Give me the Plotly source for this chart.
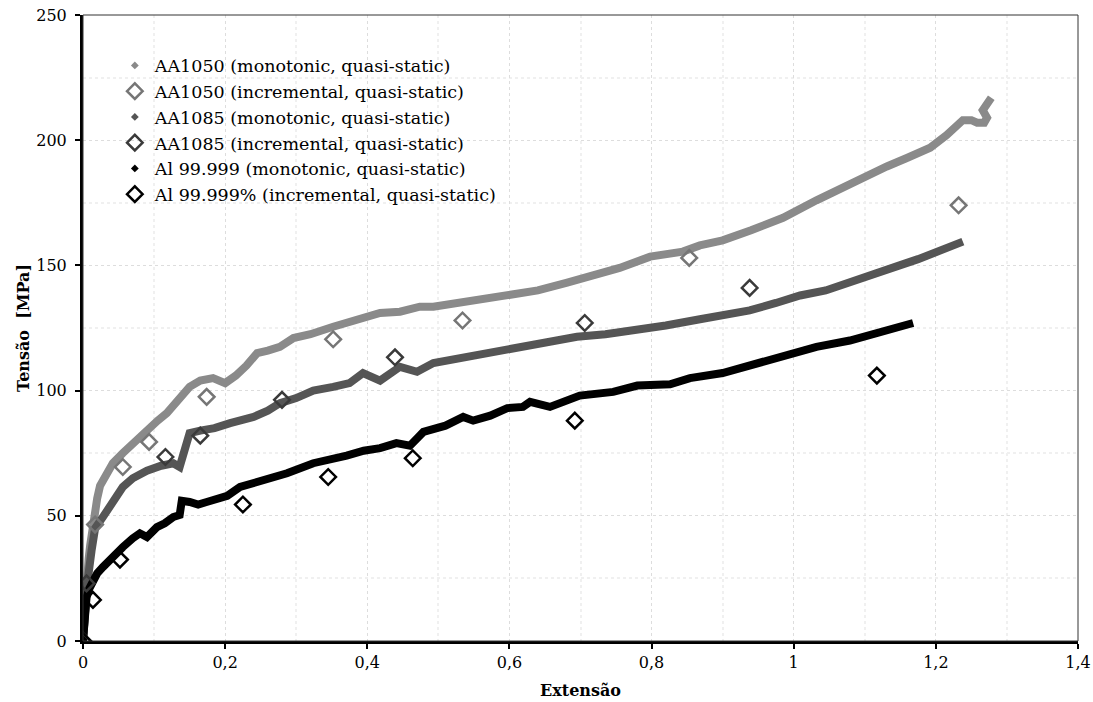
import plotly.graph_objects as go

# ---------------- data ----------------
aa1050_mono_x = [0, 0.002, 0.005, 0.008, 0.01, 0.014, 0.02, 0.024, 0.033, 0.042, 0.056, 0.07, 0.09, 0.105,
                 0.118, 0.135, 0.15, 0.165, 0.183, 0.2, 0.215, 0.23, 0.245, 0.26, 0.277, 0.296, 0.32, 0.352,
                 0.385, 0.418, 0.446, 0.474, 0.493, 0.53, 0.565, 0.601, 0.64, 0.68, 0.713, 0.755, 0.798,
                 0.844, 0.868, 0.9, 0.94, 0.985, 1.032, 1.06, 1.089, 1.131, 1.16, 1.192, 1.215, 1.238,
                 1.25, 1.258, 1.268, 1.272, 1.266, 1.272, 1.278]
aa1050_mono_y = [0, 12, 24, 33, 38, 48, 57, 62, 66, 71, 75, 79, 84, 88,
                 91, 96, 101.5, 104, 105, 103, 106, 110, 115, 116, 117.5, 121, 122.5, 125.5,
                 128, 131, 131.5, 133.5, 133.5, 135, 136.5, 138, 140, 143, 145.5, 149, 153.5,
                 155.5, 158, 160, 164, 169, 176, 180, 184, 189.5, 193, 197, 202, 208,
                 208, 207, 207, 209, 212, 214, 217]

aa1085_mono_x = [0, 0.002, 0.006, 0.012, 0.017, 0.028, 0.042, 0.056, 0.07, 0.09, 0.11, 0.127, 0.136,
                 0.143, 0.15, 0.165, 0.185, 0.207, 0.225, 0.24, 0.26, 0.277, 0.3, 0.324, 0.352, 0.375,
                 0.394, 0.418, 0.446, 0.47, 0.493, 0.53, 0.573, 0.61, 0.643, 0.695, 0.735, 0.774, 0.82,
                 0.868, 0.9, 0.938, 0.975, 1.009, 1.045, 1.079, 1.115, 1.149, 1.175, 1.196, 1.218, 1.238]
aa1085_mono_y = [0, 10, 23, 36, 45, 49.5, 56, 61.5, 65, 68, 70, 71, 69.5,
                 77, 83, 84, 85, 87, 88, 89.5, 92, 95, 97, 100, 101.5, 103,
                 107, 104, 109.5, 107.5, 111, 113, 115.5, 117, 119, 121.5, 122.5, 124, 126,
                 128.5, 130, 132, 135, 138, 140, 143, 146.5, 150, 152.5, 155, 157, 159.5]

al_mono_x = [0, 0.002, 0.005, 0.009, 0.014, 0.02, 0.028, 0.042, 0.056, 0.07, 0.08, 0.09, 0.104, 0.115,
             0.127, 0.136, 0.139, 0.15, 0.162, 0.174, 0.19, 0.203, 0.221, 0.24, 0.259, 0.287, 0.324,
             0.35, 0.371, 0.395, 0.418, 0.441, 0.46, 0.479, 0.51, 0.535, 0.549, 0.573, 0.597, 0.619,
             0.629, 0.657, 0.699, 0.746, 0.78, 0.826, 0.854, 0.9, 0.953, 0.99, 1.032, 1.079, 1.126, 1.168]
al_mono_y = [0, 6, 17.5, 21, 24, 27, 29.5, 34, 37.5, 41, 43, 41.5, 45.5, 47,
             49.5, 50.3, 56, 55.5, 54.5, 55.5, 56.5, 58, 61.5, 63, 64.5, 67, 71,
             72.5, 74, 76, 77, 79, 78, 83.5, 86, 89.5, 88, 90, 93, 93.5,
             95.5, 93.5, 98, 99.5, 102, 102.5, 105, 107, 111, 114, 117.5, 120, 124, 127]

aa1050_inc_x = [0, 0.017, 0.056, 0.093, 0.174, 0.352, 0.534, 0.853, 1.232]
aa1050_inc_y = [0, 46.5, 69.5, 79.5, 97.5, 120.5, 128, 153, 174]

aa1085_inc_x = [0, 0.005, 0.116, 0.165, 0.28, 0.439, 0.706, 0.938]
aa1085_inc_y = [0, 23, 73.5, 82, 96.3, 113.3, 127, 141]

al_inc_x = [0, 0.014, 0.052, 0.225, 0.345, 0.464, 0.692, 1.117]
al_inc_y = [0, 16.4, 32.5, 54.5, 65.5, 73, 88, 106]

names = ["AA1050 (monotonic, quasi-static)", "AA1050 (incremental, quasi-static)",
         "AA1085 (monotonic, quasi-static)", "AA1085 (incremental, quasi-static)",
         "Al 99.999 (monotonic, quasi-static)", "Al 99.999% (incremental, quasi-static)"]

c1050_mono, c1050_inc = "#8a8a8a", "#767676"
c1085_mono, c1085_inc = "#555555", "#3a3a3a"
cal_mono, cal_inc = "#000000", "#000000"

FONT = "DejaVu Serif"

fig = go.Figure()

# thick monotonic bands (drawn first)
for xs, ys, col in [(aa1050_mono_x, aa1050_mono_y, c1050_mono),
                    (aa1085_mono_x, aa1085_mono_y, c1085_mono),
                    (al_mono_x, al_mono_y, cal_mono)]:
    fig.add_trace(go.Scatter(x=xs, y=ys, mode="lines", showlegend=False, hoverinfo="skip",
                             line=dict(color=col, width=8)))

mono_series = [(aa1050_mono_x, c1050_mono), (aa1085_mono_x, c1085_mono), (al_mono_x, cal_mono)]
inc_series = [(aa1050_inc_x, aa1050_inc_y, c1050_inc), (aa1085_inc_x, aa1085_inc_y, c1085_inc),
              (al_inc_x, al_inc_y, cal_inc)]

for i in range(3):
    fig.add_trace(go.Scatter(x=[None], y=[None], mode="markers", name=names[2 * i],
                             marker=dict(symbol="diamond", size=6, color=mono_series[i][1])))
    xs, ys, col = inc_series[i]
    fig.add_trace(go.Scatter(x=xs, y=ys, mode="markers", name=names[2 * i + 1],
                             marker=dict(symbol="diamond-open", size=12, color=col,
                                         line=dict(color=col, width=2.5))))

fig.update_layout(
    width=1093, height=702,
    margin=dict(l=83, r=15, t=15, b=61),
    plot_bgcolor="white", paper_bgcolor="white",
    separators=",.",
    font=dict(family=FONT, size=16, color="black"),
    legend=dict(x=0.032, y=0.948, xanchor="left", yanchor="top",
                font=dict(family=FONT, size=17.5, color="black"),
                bgcolor="rgba(0,0,0,0)", tracegroupgap=0, itemwidth=30),
    shapes=[dict(type="rect", xref="paper", yref="paper", x0=0, y0=0, x1=1, y1=1,
                 line=dict(color="#333333", width=1), layer="above")],
)

fig.update_xaxes(
    range=[0, 1.4], dtick=0.2, tick0=0, automargin=False,
    showline=True, linecolor="black", linewidth=3,
    ticks="outside", ticklen=5, tickwidth=2, tickcolor="black",
    showgrid=True, gridcolor="#dddddd", gridwidth=1, griddash="dot",
    minor=dict(dtick=0.1, showgrid=True, gridcolor="#f0f0f0", gridwidth=2, ticks=""),
    zeroline=False,
    tickfont=dict(family=FONT, size=16),
    title=dict(text="<b>Extensão</b>", font=dict(family=FONT, size=16), standoff=14),
)
fig.update_yaxes(
    range=[0, 250], dtick=50, tick0=0, automargin=False,
    showline=True, linecolor="black", linewidth=3,
    ticks="outside", ticklen=5, tickwidth=2, tickcolor="black",
    ticklabelstandoff=5,
    showgrid=True, gridcolor="#dddddd", gridwidth=1, griddash="dot",
    minor=dict(dtick=25, showgrid=True, gridcolor="#f0f0f0", gridwidth=2, ticks=""),
    zeroline=False,
    tickfont=dict(family=FONT, size=16),
    title=dict(text="<b>Tensão\u00a0\u00a0[MPa]</b>", font=dict(family=FONT, size=16), standoff=3),
)

fig.write_html("out.html")
